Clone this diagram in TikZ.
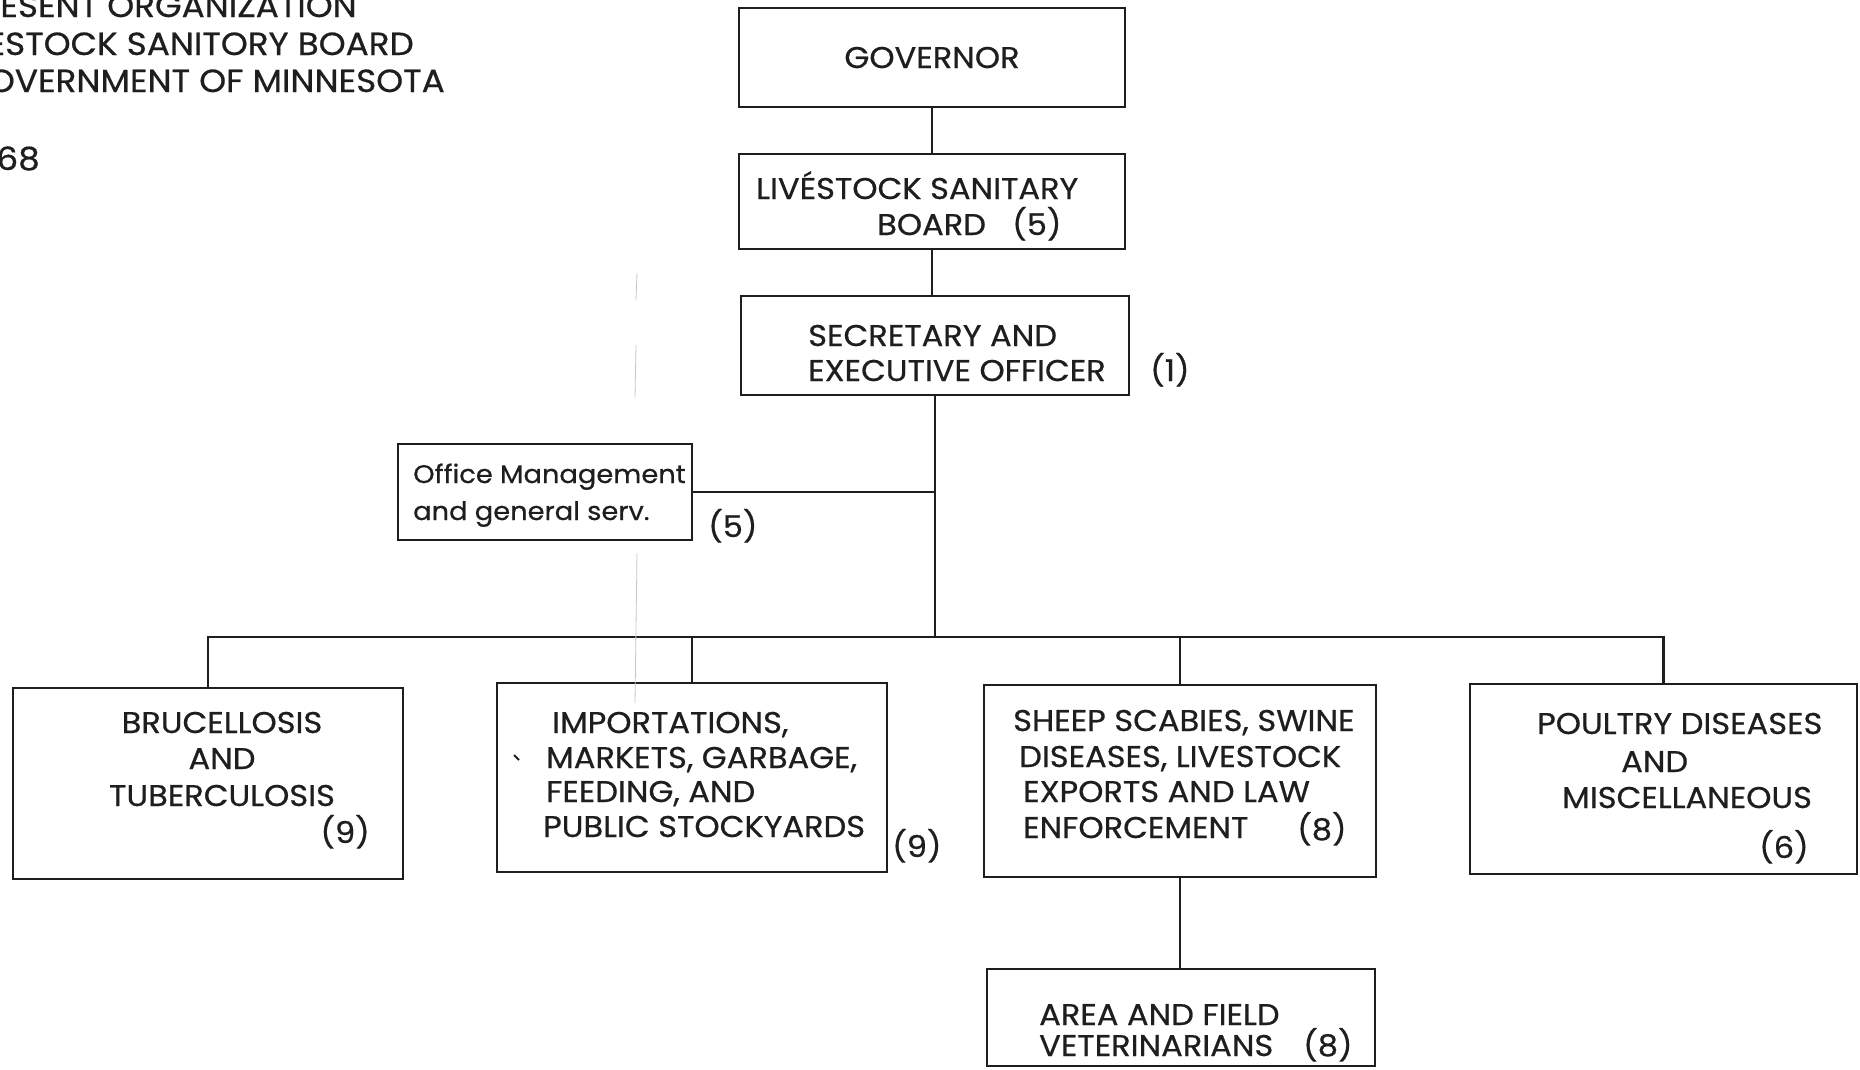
\documentclass[tikz,border=0pt]{standalone}
\usepackage{fontspec}
\setmainfont{Poppins}[FakeBold=0.6, FakeStretch=1.07]
\definecolor{inkc}{HTML}{1E1E1E}
\begin{document}
\begin{tikzpicture}[x=1pt,y=-1pt,
  ink/.style={draw=inkc, line width=2.2pt},
  box/.style={ink, rectangle, inner sep=0pt, outer sep=0pt},
  lbl/.style={text=inkc, inner sep=0pt, font=\fontsize{30}{36}\selectfont},
  small/.style={text=inkc, inner sep=0pt, font=\fontsize{25.5}{30}\selectfont},
  head/.style={text=inkc, inner sep=0pt, font=\fontsize{32}{38}\selectfont, anchor=base east},
  faint/.style={draw=gray!45, line width=0.8pt}
]
\useasboundingbox (0,0) rectangle (1860,1069);
\clip (0,0) rectangle (1860,1069);

% title (cut by the page edge, as in the scan)
\node[head] (h1) at (357,17) {PRESENT ORGANIZATION};
\node[head] (h2) at (414,55) {LIVESTOCK SANITORY BOARD};
\node[head] (h3) at (445,92) {GOVERNMENT OF MINNESOTA};
\node[head] (h4) at (40,170) {1968};

% boxes
\node[box, minimum width=386pt, minimum height=99pt] (gov) at (932,57.5) {};
\node[box, minimum width=386pt, minimum height=95pt] (lsb) at (932,201.5) {};
\node[box, minimum width=388pt, minimum height=99pt] (sec) at (935,345.5) {};
\node[box, minimum width=294pt, minimum height=96pt] (off) at (545,492) {};
\node[box, minimum width=390pt, minimum height=191pt] (b1) at (208,783.5) {};
\node[box, minimum width=390pt, minimum height=189pt] (b2) at (692,777.5) {};
\node[box, minimum width=392pt, minimum height=192pt] (b3) at (1180,781) {};
\node[box, minimum width=387pt, minimum height=190pt] (b4) at (1663.5,779) {};
\node[box, minimum width=388pt, minimum height=97pt] (b5) at (1181,1017.5) {};

% connectors
\coordinate (busy) at (0,637);
\draw[ink] (gov.south) -- (lsb.north);
\draw[ink] (lsb.south) -- (lsb.south |- sec.north);
\draw[ink] (sec.south) -- (sec.south |- busy);
\draw[ink] (off.east) -- (off.east -| sec.south);
\draw[ink] (b1.north) -- (b1.north |- busy) -- (b4.north |- busy) -- (b4.north);
\draw[ink] (b2.north) -- (b2.north |- busy);
\draw[ink] (b3.north) -- (b3.north |- busy);
\draw[ink] (b3.south) -- (b3.south |- b5.north);

% faint scan lines
\draw[faint] (637,273) -- (636,300);
\draw[faint] (636,345) -- (635,397);
\draw[faint] (637,553) -- (635,703);
\draw[ink, line width=2pt] (514,755) -- (519,760);

% texts
\node[lbl, anchor=base] (tgov) at (932,68) {GOVERNOR};

\node[lbl, anchor=base west] (tlsb1) at (756,199) {LIVÉSTOCK SANITARY};
\node[lbl, anchor=base west] (tlsb2) at (877,235) {BOARD};
\node[lbl, anchor=base west] (tlsb3) at (1012,235) {(5)};

\node[lbl, anchor=base west] (tsec1) at (808,346) {SECRETARY AND};
\node[lbl, anchor=base west] (tsec2) at (808,381) {EXECUTIVE OFFICER};
\node[lbl, anchor=base west] (tsec3) at (1150,381) {(1)};

\node[small, anchor=base west] (toff1) at (413,483) {Office Management};
\node[small, anchor=base west] (toff2) at (413,520) {and general serv.};
\node[lbl, anchor=base west] (toff3) at (708,537) {(5)};

\node[lbl, anchor=base] (tb1a) at (222,733) {BRUCELLOSIS};
\node[lbl, anchor=base] (tb1b) at (222,769) {AND};
\node[lbl, anchor=base] (tb1c) at (222,806) {TUBERCULOSIS};
\node[lbl, anchor=base east] (tb1d) at (370,843) {(9)};

\node[lbl, anchor=base west] (tb2a) at (552,733) {IMPORTATIONS,};
\node[lbl, anchor=base west] (tb2b) at (546,768) {MARKETS, GARBAGE,};
\node[lbl, anchor=base west] (tb2c) at (546,802) {FEEDING, AND};
\node[lbl, anchor=base west] (tb2d) at (543,837) {PUBLIC STOCKYARDS};
\node[lbl, anchor=base west] (tb2e) at (892,857) {(9)};

\node[lbl, anchor=base west] (tb3a) at (1013,731) {SHEEP SCABIES, SWINE};
\node[lbl, anchor=base west] (tb3b) at (1019,767) {DISEASES, LIVESTOCK};
\node[lbl, anchor=base west] (tb3c) at (1023,802) {EXPORTS AND LAW};
\node[lbl, anchor=base west] (tb3d) at (1023,838) {ENFORCEMENT};
\node[lbl, anchor=base west] (tb3e) at (1297,840) {(8)};

\node[lbl, anchor=base west] (tb4a) at (1537,734) {POULTRY DISEASES};
\node[lbl, anchor=base west] (tb4b) at (1621,772) {AND};
\node[lbl, anchor=base west] (tb4c) at (1562,808) {MISCELLANEOUS};
\node[lbl, anchor=base west] (tb4d) at (1759,858) {(6)};

\node[lbl, anchor=base west] (tb5a) at (1039,1025) {AREA AND FIELD};
\node[lbl, anchor=base west] (tb5b) at (1039,1056) {VETERINARIANS};
\node[lbl, anchor=base west] (tb5c) at (1303,1056) {(8)};
\end{tikzpicture}
\end{document}
